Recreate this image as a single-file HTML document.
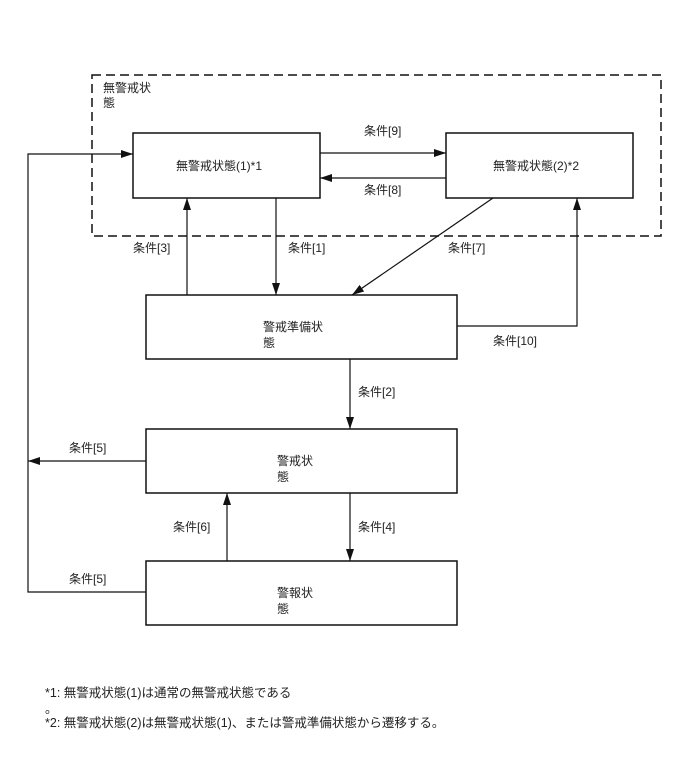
<!DOCTYPE html>
<html><head><meta charset="utf-8"><style>
html,body{margin:0;padding:0;background:#fff;}
svg text{font-family:"Liberation Sans","Noto Sans CJK JP",sans-serif;font-size:12px;fill:#222;}
</style></head><body>
<svg width="688" height="755" viewBox="0 0 688 755" xmlns="http://www.w3.org/2000/svg">
<defs>
<marker id="a" markerWidth="12" markerHeight="8" refX="12" refY="4" orient="auto" markerUnits="userSpaceOnUse">
<path d="M0,0 L12,4 L0,8 z" fill="#111"/>
</marker>
</defs>
<rect x="92" y="75" width="569" height="161" fill="none" stroke="#111" stroke-width="1.5" stroke-dasharray="9,5"/>
<text x="103" y="92">無警戒状</text>
<text x="103" y="107">態</text>
<g fill="#fff" stroke="#111" stroke-width="1.5">
<rect x="133" y="133" width="187" height="65"/>
<rect x="446" y="133" width="187" height="65"/>
<rect x="146" y="295" width="311" height="64"/>
<rect x="146" y="429" width="311" height="64"/>
<rect x="146" y="561" width="311" height="64"/>
</g>
<text x="176" y="170">無警戒状態(1)*1</text>
<text x="493" y="170">無警戒状態(2)*2</text>
<text x="263" y="331">警戒準備状</text>
<text x="263" y="347">態</text>
<text x="277" y="465">警戒状</text>
<text x="277" y="481">態</text>
<text x="277" y="597">警報状</text>
<text x="277" y="613">態</text>
<g stroke="#111" stroke-width="1.2" fill="none">
<path d="M320,153 H446" marker-end="url(#a)"/>
<path d="M446,178 H320" marker-end="url(#a)"/>
<path d="M187,295 V198" marker-end="url(#a)"/>
<path d="M276,198 V295" marker-end="url(#a)"/>
<path d="M493,198 L352,295" marker-end="url(#a)"/>
<path d="M457,326 H577 V198" marker-end="url(#a)"/>
<path d="M350,359 V429" marker-end="url(#a)"/>
<path d="M146,461 H28" marker-end="url(#a)"/>
<path d="M227,561 V493" marker-end="url(#a)"/>
<path d="M350,493 V561" marker-end="url(#a)"/>
<path d="M146,592 H28 V154 H133" marker-end="url(#a)"/>
</g>
<text x="364" y="135">条件[9]</text>
<text x="364" y="194">条件[8]</text>
<text x="133" y="252">条件[3]</text>
<text x="288" y="252">条件[1]</text>
<text x="448" y="252">条件[7]</text>
<text x="493" y="345">条件[10]</text>
<text x="358" y="396">条件[2]</text>
<text x="69" y="452">条件[5]</text>
<text x="173" y="531">条件[6]</text>
<text x="358" y="531">条件[4]</text>
<text x="69" y="583">条件[5]</text>
<text x="45" y="697" style="font-size:12.5px">*1: 無警戒状態(1)は通常の無警戒状態である</text>
<text x="45" y="713" style="font-size:12.5px">。</text>
<text x="45" y="727" style="font-size:12.5px">*2: 無警戒状態(2)は無警戒状態(1)、または警戒準備状態から遷移する。</text>
</svg>
</body></html>
